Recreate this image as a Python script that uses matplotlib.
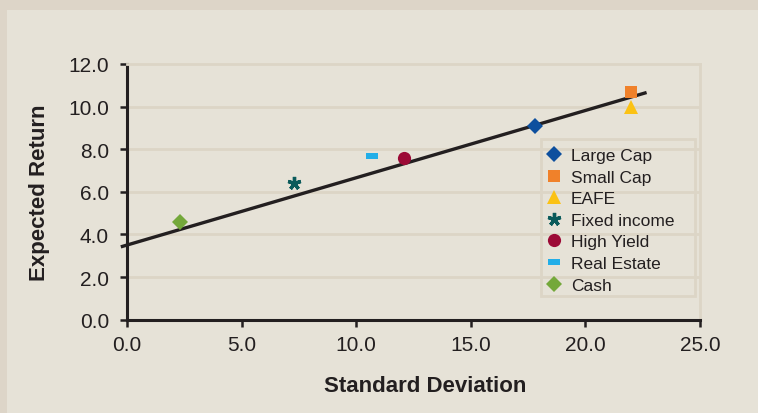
import matplotlib
matplotlib.use("Agg")
import matplotlib.pyplot as plt
import matplotlib.path as mpath
from matplotlib.patches import Rectangle
import numpy as np

plt.rcParams['font.family'] = ['Liberation Sans', 'DejaVu Sans']

# Asset classes: risk (standard deviation) vs expected return
assets = ["Large Cap", "Small Cap", "EAFE", "Fixed income", "High Yield", "Real Estate", "Cash"]
std_dev = [17.8, 22.0, 22.0, 7.3, 12.1, 10.7, 2.3]
exp_return = [9.1, 10.7, 10.0, 6.4, 7.6, 7.7, 4.6]

# Fitted trend line
line_x = [-0.2, 22.6]
line_y = [3.44, 10.64]

x_ticks = [0.0, 5.0, 10.0, 15.0, 20.0, 25.0]
y_ticks = [0.0, 2.0, 4.0, 6.0, 8.0, 10.0, 12.0]

dash = mpath.Path([(-1, -0.55), (1, -0.55), (1, 0.55), (-1, 0.55), (-1, -0.55)],
                  [1, 2, 2, 2, 79])

styles = {
    "Large Cap":    dict(marker="D", color="#0d4f9e", ms=8, mew=0),
    "Small Cap":    dict(marker="s", color="#f0812a", ms=8.5, mew=0),
    "EAFE":         dict(marker="^", color="#fbc214", ms=10, mew=0),
    "Fixed income": dict(marker=(5, 2, 0), color="#0b5b5b", ms=9.5, mew=2.4),
    "High Yield":   dict(marker="o", color="#9c0a36", ms=9.5, mew=0),
    "Real Estate":  dict(marker=dash, color="#22aee8", ms=8, mew=0),
    "Cash":         dict(marker="D", color="#74a83a", ms=8, mew=0),
}

bg_outer = "#ddd5c8"
bg_inner = "#e6e2d7"
grid_col = "#dcd5c6"
ink = "#231f20"

W, H = 758, 414
fig = plt.figure(figsize=(W / 100, H / 100), dpi=100, facecolor=bg_outer)
fig.patches.append(Rectangle((7 / W, 0), 1, 1 - 11 / H, transform=fig.transFigure,
                             facecolor=bg_inner, edgecolor="none", zorder=-5))

ax = fig.add_axes([127 / W, 93.3 / H, 573 / W, 255.7 / H])
ax.set_facecolor(bg_inner)
ax.set_xlim(0, 25)
ax.set_ylim(0, 12)

for y in y_ticks[1:-1]:
    ax.axhline(y, color=grid_col, lw=2, zorder=1)

ax.plot(line_x, line_y, color=ink, lw=2.4, zorder=3, clip_on=False)

for name, sx, ry in zip(assets, std_dev, exp_return):
    st = styles[name]
    ax.plot([sx], [ry], linestyle="none", marker=st["marker"], color=st["color"],
            markersize=st["ms"], markeredgewidth=st["mew"], markeredgecolor=st["color"],
            label=name, zorder=4, clip_on=False)

for side in ("top", "right"):
    ax.spines[side].set_color(grid_col)
    ax.spines[side].set_linewidth(2)
for side in ("left", "bottom"):
    ax.spines[side].set_color(ink)
    ax.spines[side].set_linewidth(2.2)

ax.set_xticks(x_ticks)
ax.set_yticks(y_ticks)
ax.set_xticklabels([f"{v:.1f}" for v in x_ticks])
ax.set_yticklabels([f"{v:.1f}" for v in y_ticks])
ax.tick_params(axis="both", direction="out", length=5, width=1.8, color=ink,
               labelsize=15, labelcolor=ink)
ax.tick_params(axis="x", pad=6)
ax.tick_params(axis="y", pad=8)

ax.set_xlabel("Standard Deviation", fontsize=16, fontweight="bold", color=ink)
ax.xaxis.set_label_coords(0.52, -0.215)
ax.set_ylabel("Expected Return", fontsize=16, fontweight="bold", color=ink, labelpad=13)

# legend box drawn as its own frame, entries placed inside it
fig.patches.append(Rectangle((541 / W, 1 - 297 / H), 154 / W, 157 / H, transform=fig.transFigure,
                             facecolor="none", edgecolor=grid_col, lw=2, zorder=2))
leg = ax.legend(loc="upper left", bbox_to_anchor=(545 / W, 1 - 149 / H), bbox_transform=fig.transFigure,
                frameon=False, fontsize=12.5, handletextpad=0.5, labelspacing=0.37,
                borderpad=0, handlelength=1.0, borderaxespad=0)
for t in leg.get_texts():
    t.set_color(ink)

fig.savefig("out.png", dpi=100, facecolor=fig.get_facecolor())
